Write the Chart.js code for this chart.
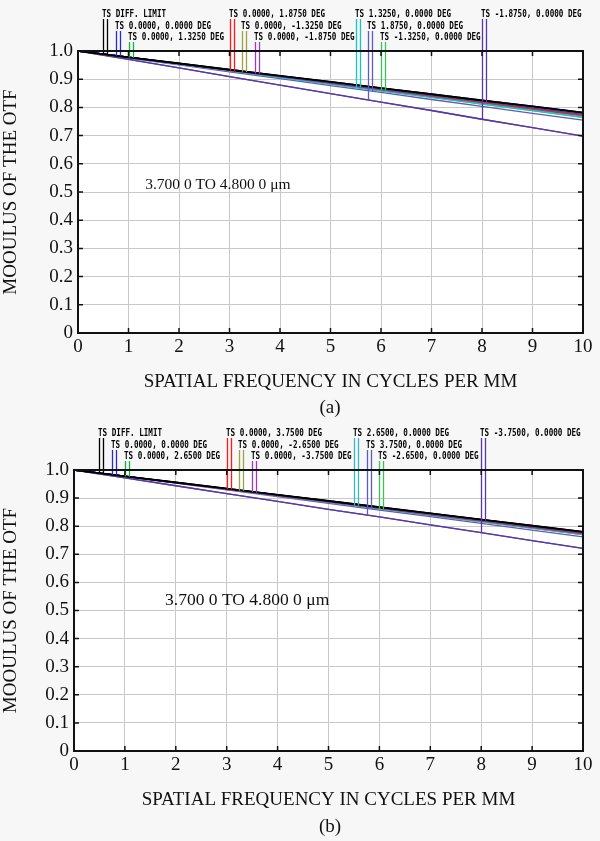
<!DOCTYPE html>
<html>
<head>
<meta charset="utf-8">
<script src="https://cdn.jsdelivr.net/npm/chart.js@4.4.1/dist/chart.umd.min.js"></script>
<style>
  html, body { margin: 0; padding: 0; background: #f7f7f7; }
  body { width: 600px; height: 841px; position: relative; overflow: hidden; }
  .box { position: absolute; left: 0; width: 600px; height: 400px; }
  .cap { position: absolute; left: 300px; width: 60px; text-align: center;
         font: 19px "Liberation Serif", "Times New Roman", serif; color: #111; }
</style>
</head>
<body>
<div class="box" style="top:0"><canvas id="chartA"></canvas></div>
<div class="cap" style="top:396px">(a)</div>
<div class="box" style="top:420px"><canvas id="chartB"></canvas></div>
<div class="cap" style="top:815px">(b)</div>
<script>
// spatial frequency (cycles/mm)
var freq = [0, 1, 2, 3, 4, 5, 6, 7, 8, 9, 10];
var yTicks = [0, 0.1, 0.2, 0.3, 0.4, 0.5, 0.6, 0.7, 0.8, 0.9, 1.0];

// legend labels, one per field
var fieldsA = ['TS DIFF. LIMIT', 'TS 0.0000, 0.0000 DEG', 'TS 0.0000, 1.3250 DEG',
  'TS 0.0000, 1.8750 DEG', 'TS 0.0000, -1.3250 DEG', 'TS 0.0000, -1.8750 DEG',
  'TS 1.3250, 0.0000 DEG', 'TS 1.8750, 0.0000 DEG', 'TS -1.3250, 0.0000 DEG',
  'TS -1.8750, 0.0000 DEG'];
var fieldsB = ['TS DIFF. LIMIT', 'TS 0.0000, 0.0000 DEG', 'TS 0.0000, 2.6500 DEG',
  'TS 0.0000, 3.7500 DEG', 'TS 0.0000, -2.6500 DEG', 'TS 0.0000, -3.7500 DEG',
  'TS 2.6500, 0.0000 DEG', 'TS 3.7500, 0.0000 DEG', 'TS -2.6500, 0.0000 DEG',
  'TS -3.7500, 0.0000 DEG'];

// frequency where each legend marker sits, and its text row
var labelFreq = [0.5, 0.75, 1.0, 3.0, 3.25, 3.5, 5.5, 5.75, 6.0, 8.0];
var labelRow = [0, 1, 2, 0, 1, 2, 0, 1, 2, 0];

// MTF, tangential / sagittal, chart (a)
var tanA = [
  [1, .978, .956, .934, .912, .891, .869, .847, .825, .804, .782],
  [1, .978, .955, .933, .911, .889, .867, .845, .823, .801, .779],
  [1, .977, .955, .932, .910, .888, .865, .843, .821, .798, .776],
  [1, .977, .954, .931, .909, .886, .863, .840, .818, .795, .772],
  [1, .977, .955, .932, .910, .888, .865, .843, .821, .798, .776],
  [1, .977, .954, .931, .909, .886, .863, .840, .818, .795, .772],
  [1, .976, .953, .930, .906, .883, .859, .836, .812, .789, .765],
  [1, .970, .940, .909, .879, .849, .819, .789, .758, .728, .698],
  [1, .976, .953, .930, .906, .883, .859, .836, .812, .789, .765],
  [1, .970, .940, .909, .879, .849, .819, .789, .758, .728, .698]
];
var sagA = [
  [1, .978, .956, .934, .912, .891, .869, .847, .825, .804, .782],
  [1, .978, .955, .933, .911, .889, .867, .845, .823, .801, .779],
  [1, .978, .955, .933, .911, .889, .866, .844, .822, .800, .778],
  [1, .977, .955, .932, .910, .888, .865, .843, .821, .798, .776],
  [1, .978, .955, .933, .911, .889, .866, .844, .822, .800, .778],
  [1, .977, .955, .932, .910, .888, .865, .843, .821, .798, .776],
  [1, .977, .954, .931, .908, .885, .862, .839, .816, .793, .770],
  [1, .975, .951, .926, .902, .877, .853, .828, .804, .779, .755],
  [1, .977, .954, .931, .908, .885, .862, .839, .816, .793, .770],
  [1, .977, .955, .932, .910, .888, .865, .843, .821, .798, .776]
];

// MTF, tangential / sagittal, chart (b)
var tanB = [
  [1, .978, .956, .934, .912, .890, .868, .846, .824, .802, .780],
  [1, .978, .955, .933, .911, .889, .867, .845, .823, .801, .779],
  [1, .977, .955, .932, .910, .888, .865, .843, .821, .798, .776],
  [1, .977, .954, .932, .909, .887, .864, .841, .819, .796, .774],
  [1, .977, .955, .932, .910, .888, .865, .843, .821, .798, .776],
  [1, .977, .954, .932, .909, .887, .864, .841, .819, .796, .774],
  [1, .977, .954, .931, .908, .885, .862, .839, .816, .793, .770],
  [1, .972, .944, .916, .888, .860, .833, .805, .777, .749, .721],
  [1, .977, .954, .931, .908, .885, .862, .839, .816, .793, .770],
  [1, .972, .944, .916, .888, .860, .833, .805, .777, .749, .721]
];
var sagB = [
  [1, .978, .956, .934, .912, .890, .868, .846, .824, .802, .780],
  [1, .978, .955, .933, .911, .889, .867, .845, .823, .801, .779],
  [1, .978, .955, .933, .911, .888, .866, .844, .822, .799, .777],
  [1, .977, .955, .932, .910, .888, .865, .843, .821, .798, .776],
  [1, .978, .955, .933, .911, .888, .866, .844, .822, .799, .777],
  [1, .977, .955, .932, .910, .888, .865, .843, .821, .798, .776],
  [1, .977, .954, .932, .909, .886, .863, .840, .818, .795, .772],
  [1, .976, .953, .929, .905, .881, .857, .834, .810, .786, .762],
  [1, .977, .954, .931, .908, .885, .862, .839, .816, .793, .770],
  [1, .977, .955, .932, .910, .888, .865, .843, .821, .798, .776]
];

var colorsA = ['#000000', '#2a2ac8', '#14b43c', '#ff1a1a', '#a0a048', '#9a3cb8',
  '#18c4c4', '#5c5cc0', '#3cc05a', '#5a36a0'];
var colorsB = ['#000000', '#2a2ac8', '#14b43c', '#ff1a1a', '#a0a048', '#9a3cb8',
  '#3cb4c8', '#5c5cc0', '#3cc05a', '#5a36a0'];

var SERIF = '"Liberation Serif", "Times New Roman", serif';

function valueAt(arr, x) {
  var i = Math.min(Math.floor(x), arr.length - 2);
  var t = x - freq[i];
  return arr[i] + (arr[i + 1] - arr[i]) * t;
}

// white plot area, frame with inner ticks, Zemax-style legend and wavelength note
var otfDecor = {
  id: 'otfDecor',
  beforeDraw: function(chart) {
    var a = chart.chartArea, ctx = chart.ctx;
    ctx.save();
    ctx.fillStyle = '#ffffff';
    ctx.fillRect(a.left, a.top, a.right - a.left, a.bottom - a.top);
    ctx.restore();
  },
  afterDatasetsDraw: function(chart) {
    var o = chart.options.plugins.otfDecor;
    var a = chart.chartArea, ctx = chart.ctx;
    var xs = chart.scales.x, ys = chart.scales.y;
    var rowY = [a.top - 37, a.top - 25, a.top - 14];
    ctx.save();
    ctx.lineWidth = 1.3;
    o.fields.forEach(function(label, i) {
      var f = labelFreq[i];
      var px = Math.round(xs.getPixelForValue(f)) + 0.5;
      var top = rowY[labelRow[i]] + 5;
      ctx.strokeStyle = o.colors[i];
      ctx.beginPath();
      ctx.moveTo(px, top);
      ctx.lineTo(px, ys.getPixelForValue(valueAt(o.tan[i], f)));
      ctx.moveTo(px + 4, top);
      ctx.lineTo(px + 4, ys.getPixelForValue(valueAt(o.sag[i], f + 0.08)));
      ctx.stroke();
      // condensed monospace label
      ctx.save();
      ctx.translate(px - 1.5, rowY[labelRow[i]]);
      ctx.scale(0.76, 1);
      ctx.fillStyle = '#000';
      ctx.font = 'bold 10px "DejaVu Sans Mono", monospace';
      ctx.textBaseline = 'middle';
      ctx.fillText(label, 0, 0);
      ctx.restore();
    });
    ctx.fillStyle = '#111';
    ctx.font = o.noteSize + 'px ' + SERIF;
    ctx.textBaseline = 'middle';
    ctx.fillText(o.note, xs.getPixelForValue(o.noteAt[0]), ys.getPixelForValue(o.noteAt[1]));
    ctx.restore();
  },
  afterDraw: function(chart) {
    var a = chart.chartArea, ctx = chart.ctx;
    var xs = chart.scales.x, ys = chart.scales.y;
    ctx.save();
    ctx.strokeStyle = '#111';
    ctx.lineWidth = 1.5;
    ctx.beginPath();
    for (var v = 1; v < 10; v++) {
      var px = xs.getPixelForValue(v);
      ctx.moveTo(px, a.bottom); ctx.lineTo(px, a.bottom - 5);
      ctx.moveTo(px, a.top); ctx.lineTo(px, a.top + 5);
    }
    yTicks.slice(1, 10).forEach(function(t) {
      var py = ys.getPixelForValue(t);
      ctx.moveTo(a.left, py); ctx.lineTo(a.left + 5, py);
      ctx.moveTo(a.right, py); ctx.lineTo(a.right - 5, py);
    });
    ctx.stroke();
    ctx.lineWidth = 2;
    ctx.strokeRect(a.left, a.top, a.right - a.left, a.bottom - a.top);
    ctx.restore();
  }
};

function buildChart(id, fields, tan, sag, colors, note, noteAt, noteSize, pad, yWidth) {
  var datasets = [];
  fields.forEach(function(label, i) {
    var ord = i === 0 ? 0 : (i === 9 ? 1 : 2);
    [tan[i], sag[i]].forEach(function(vals, k) {
      datasets.push({
        label: label + (k ? ' S' : ' T'),
        data: freq.map(function(f, j) { return { x: f, y: vals[j] }; }),
        borderColor: colors[i],
        borderWidth: i === 0 ? 1.6 : 1.3,
        pointRadius: 0,
        tension: 0,
        order: ord,
        clip: 3
      });
    });
  });

  return new Chart(document.getElementById(id), {
    type: 'line',
    data: { datasets: datasets },
    options: {
      responsive: true,
      maintainAspectRatio: false,
      animation: false,
      layout: { padding: pad },
      plugins: {
        legend: { display: false },
        tooltip: { enabled: false },
        otfDecor: { fields: fields, tan: tan, sag: sag, colors: colors,
                    note: note, noteAt: noteAt, noteSize: noteSize }
      },
      scales: {
        x: {
          type: 'linear', min: 0, max: 10,
          grid: { color: '#c9c9c9', lineWidth: 1, drawTicks: false },
          border: { display: false },
          ticks: { stepSize: 1, padding: 3, color: '#111', font: { family: SERIF, size: 19 } },
          title: { display: true, text: 'SPATIAL FREQUENCY IN CYCLES PER MM', color: '#111',
                   font: { family: SERIF, size: 19 }, padding: 0 },
          afterFit: function(s) { s.height = 60; }
        },
        y: {
          type: 'linear', min: 0, max: 1,
          afterBuildTicks: function(s) { s.ticks = yTicks.map(function(v) { return { value: v }; }); },
          grid: { color: '#c9c9c9', lineWidth: 1, drawTicks: false },
          border: { display: false },
          ticks: {
            padding: 5, color: '#111', font: { family: SERIF, size: 19 },
            callback: function(v) { return v === 0 ? '0' : v.toFixed(1); }
          },
          title: { display: true, text: 'MOOULUS OF THE OTF', color: '#111',
                   font: { family: SERIF, size: 19 }, padding: 0 },
          afterFit: function(s) { s.width = yWidth; }
        }
      }
    },
    plugins: [otfDecor]
  });
}

buildChart('chartA', fieldsA, tanA, sagA, colorsA, '3.700 0 TO 4.800 0 \u03bcm', [1.33, 0.525], 15.5,
  { top: 51, right: 17, bottom: 7, left: 0 }, 78);
buildChart('chartB', fieldsB, tanB, sagB, colorsB, '3.700 0 TO 4.800 0 \u03bcm', [1.79, 0.537], 17.5,
  { top: 50, right: 17, bottom: 9, left: 0 }, 74);
</script>
</body>
</html>
